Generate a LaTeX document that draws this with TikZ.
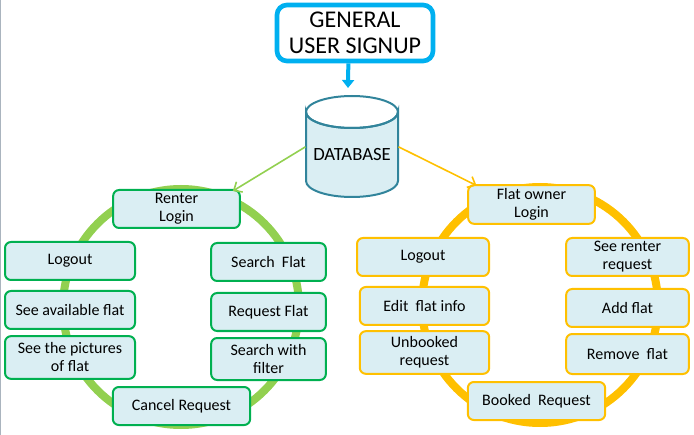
\documentclass[tikz,border=0pt]{standalone}
\usepackage{fontspec}
\setmainfont{Carlito}
\usetikzlibrary{arrows.meta}

\definecolor{boxfill}{RGB}{218,238,243}
\definecolor{rentgreen}{RGB}{0,176,80}
\definecolor{ringgreen}{RGB}{146,208,80}
\definecolor{ownorange}{RGB}{255,192,0}
\definecolor{signblue}{RGB}{0,176,240}
\definecolor{dbedge}{RGB}{49,132,155}

\tikzset{every picture/.style={line width=0.75pt}}
\tikzset{
  flatbox/.style={draw, fill=boxfill, rounded corners=4.5pt, line width=1.5pt, align=center, inner sep=0pt, font=\fontsize{12}{13.5}\selectfont},
  renterbox/.style={flatbox, draw=rentgreen},
  ownerbox/.style={flatbox, draw=ownorange},
  ringline/.style={line width=6pt},
}

\begin{document}
\begin{tikzpicture}[x=0.75pt,y=0.75pt,yscale=-1,xscale=1]
\useasboundingbox (0,0) rectangle (694,435);
%page edge
\draw [color={rgb, 255:red, 170; green, 180; blue, 190 }] (0.5,0) -- (0.5,435) ;

%Circles [id:ring]
\draw [ringline, color=ringgreen] (181,307) circle [radius=118] ;
\draw [ringline, color=ownorange] (540,305) circle [radius=118] ;

%Shape: Can [id:database]
\draw [fill=boxfill, draw=dbedge, line width=1.5pt] (306,112) -- (306,181) arc (180:0:46 and 16) -- (398,112) arc (0:180:46 and 16) -- cycle ;
\draw [draw=dbedge, line width=1.5pt] (352,112) ellipse (46 and 16) ;
% Text Node
\node (db) [minimum width=69pt, minimum height=60pt, inner sep=0pt, font=\fontsize{14}{16}\selectfont] at (352,155) {DATABASE};

% Text Node
\node (signup) [draw=signblue, line width=3.5pt, rounded corners=7.5pt, fill=white, minimum width=117pt, minimum height=42pt, align=center, inner sep=0pt, font=\fontsize{18}{19.5}\selectfont] at (355,33) {GENERAL\\USER SIGNUP};
\coordinate (dbtop) at (348,88);

% Renter side
\node (rlogin) [renterbox, minimum width=95pt, minimum height=28.5pt] at (176.5,209) {Renter\\Login};
\node (rlogout) [renterbox, minimum width=97.5pt, minimum height=28.5pt] at (70,261) {Logout};
\node (ravail) [renterbox, minimum width=97.5pt, minimum height=28.5pt] at (70,310) {See available flat};
\node (rpics) [renterbox, minimum width=97.5pt, minimum height=32pt] at (70,357.5) {See the pictures\\of flat};
\node (rsearch) [renterbox, minimum width=86pt, minimum height=28.5pt] at (268.5,262) {Search \ Flat};
\node (rrequest) [renterbox, minimum width=86pt, minimum height=28.5pt] at (268.5,312) {Request Flat};
\node (rfilter) [renterbox, minimum width=86pt, minimum height=31.5pt] at (268.5,359) {Search with\\filter};
\node (rcancel) [renterbox, minimum width=103pt, minimum height=28.5pt] at (181.5,406) {Cancel Request};

% Owner side
\node (ologin) [ownerbox, minimum width=95pt, minimum height=29pt] at (531.5,204.5) {Flat owner\\Login};
\node (ologout) [ownerbox, minimum width=99pt, minimum height=28.5pt] at (423,257) {Logout};
\node (oedit) [ownerbox, minimum width=97pt, minimum height=28.5pt] at (424.5,306) {Edit \ flat info};
\node (ounbooked) [ownerbox, minimum width=97pt, minimum height=32pt] at (424.5,352.5) {Unbooked\\request};
\node (orenter) [ownerbox, minimum width=92pt, minimum height=28.5pt] at (627.5,257) {See renter\\request};
\node (oadd) [ownerbox, minimum width=92pt, minimum height=28.5pt] at (627.5,308) {Add flat};
\node (oremove) [ownerbox, minimum width=92pt, minimum height=30pt] at (627.5,354) {Remove \ flat};
\node (obooked) [ownerbox, minimum width=103pt, minimum height=28.5pt] at (536.5,401) {Booked \ Request};

%Straight Lines [id:arrows]
\draw [color=signblue, line width=3pt, -{Triangle[width=9pt,length=6pt]}] ([xshift=-5pt]signup.south) -- (dbtop) ;
\draw [color=ringgreen, line width=1.2pt, -{Straight Barb[length=5pt,width=9pt]}] (db.170) -- ([xshift=-6pt,yshift=1.5pt]rlogin.north east) ;
\draw [color=ownorange, line width=1.2pt, -{Straight Barb[length=5pt,width=9pt]}] (db.10) -- ([xshift=7pt,yshift=1pt]ologin.north west) ;

\end{tikzpicture}
\end{document}
